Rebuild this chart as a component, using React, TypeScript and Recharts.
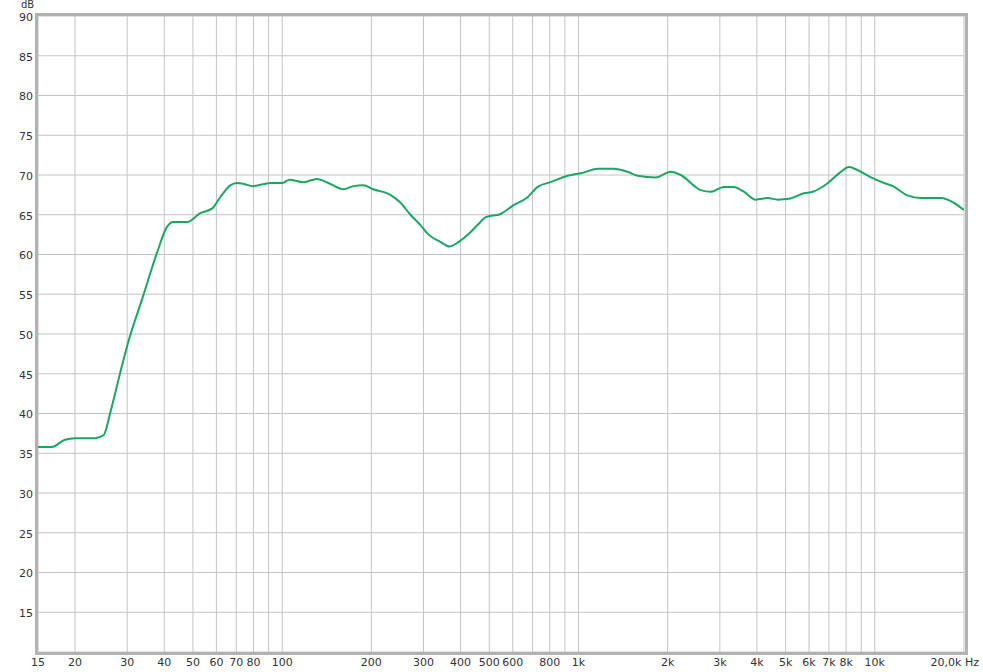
import React from "react";
import {
  LineChart,
  Line,
  XAxis,
  YAxis,
  CartesianGrid,
} from "recharts";

/* ── data ─────────────────────────────────────────────────── */
const freqs = [
  15, 16.7, 18.5, 20, 23.4, 25, 26.3, 28.4, 30.2, 33.9, 37.8, 40.9, 42.9,
  47.8, 52.9, 58.1, 61.8, 66.8, 70.5, 73.9, 79.8, 91.2, 100, 106, 118, 131,
  145, 161, 174, 188, 203, 232, 251, 271, 293, 312, 342, 367, 391, 432, 467,
  486, 546, 604, 673, 728, 805, 919, 1040, 1161, 1315, 1466, 1585, 1822, 2046,
  2213, 2585, 2796, 3090, 3342, 3615, 3963, 4350, 4710, 5130, 5760, 6180,
  6950, 7680, 8170, 8770, 9710, 10740, 11510, 12950, 14320, 16730, 18490,
  20000,
];

const levels = [
  35.8, 35.8, 36.7, 36.9, 36.9, 37.3, 40.1, 45.1, 48.9, 54.7, 60.2, 63.5, 64.1,
  64.1, 65.2, 65.8, 67.2, 68.7, 69.0, 68.9, 68.6, 69.0, 69.0, 69.4, 69.1, 69.5,
  68.9, 68.2, 68.6, 68.7, 68.2, 67.5, 66.5, 65.0, 63.7, 62.5, 61.6, 61.0, 61.5,
  62.8, 64.1, 64.7, 65.1, 66.2, 67.2, 68.5, 69.1, 69.9, 70.3, 70.8, 70.8, 70.4,
  69.9, 69.7, 70.4, 70.0, 68.1, 67.9, 68.5, 68.5, 67.9, 66.9, 67.1, 66.9, 67.0,
  67.7, 67.9, 69.0, 70.4, 71.0, 70.6, 69.7, 69.0, 68.6, 67.4, 67.1, 67.1, 66.5,
  65.6,
];

const freqTicks = [
  15, 20, 30, 40, 50, 60, 70, 80, 90, 100, 200, 300, 400, 500, 600, 700, 800,
  900, 1000, 2000, 3000, 4000, 5000, 6000, 7000, 8000, 9000, 10000, 20000,
];
const unlabelledFreqs = [90, 700, 900, 9000];

const dbTicks = [10, 15, 20, 25, 30, 35, 40, 45, 50, 55, 60, 65, 70, 75, 80, 85, 90];

const data = freqs.map((f, i) => ({ f, db: levels[i] }));

const FONT = "'DejaVu Sans', Verdana, sans-serif";
const TEXT = "#333";

function freqLabel(v: number) {
  if (unlabelledFreqs.includes(v)) return "";
  if (v === 20000) return "20,0k Hz";
  if (v >= 1000) return `${v / 1000}k`;
  return String(v);
}

function FreqTick(props: any) {
  const { x, y, payload } = props;
  const label = freqLabel(payload.value);
  if (!label) return null;
  const last = payload.value === 20000;
  return (
    <text
      x={last ? x + 15 : x}
      y={y - 2}
      dy="0.71em"
      textAnchor={last ? "end" : "middle"}
      fill={TEXT}
      fontSize={11}
      fontFamily={FONT}
    >
      {label}
    </text>
  );
}

export default function App() {
  return (
    <div
      style={{
        position: "absolute",
        left: 0,
        top: 0,
        width: 983,
        height: 672,
        background: "#fff",
      }}
    >
      <LineChart
        width={983}
        height={672}
        data={data}
        margin={{ top: 16, right: 19, bottom: 0, left: 0 }}
      >
        <CartesianGrid stroke="#c4c4c4" strokeWidth={1} />
        <XAxis
          dataKey="f"
          type="number"
          scale="log"
          domain={[15, 20000]}
          ticks={freqTicks}
          interval={0}
          allowDataOverflow
          axisLine={false}
          tickLine={false}
          height={20}
          tick={<FreqTick />}
        />
        <YAxis
          type="number"
          domain={[10, 90]}
          ticks={dbTicks}
          interval={0}
          width={38}
          axisLine={false}
          tickLine={false}
          tickSize={0}
          tickMargin={5}
          tickFormatter={(v: number) => (v === 10 ? "" : String(v))}
          tick={{ fill: TEXT, fontSize: 11, fontFamily: FONT, dy: 1 }}
        />
        <Line
          type="monotone"
          dataKey="db"
          stroke="#1ba664"
          strokeWidth={2}
          dot={false}
          isAnimationActive={false}
        />
      </LineChart>
      <div
        style={{
          position: "absolute",
          left: 35,
          top: 13,
          width: 927,
          height: 636,
          border: "3px solid #b2b2b2",
          pointerEvents: "none",
        }}
      />
      <span
        style={{
          position: "absolute",
          left: 21,
          top: 0,
          fontSize: 10,
          lineHeight: "10px",
          fontFamily: FONT,
          color: TEXT,
        }}
      >
        dB
      </span>
    </div>
  );
}
